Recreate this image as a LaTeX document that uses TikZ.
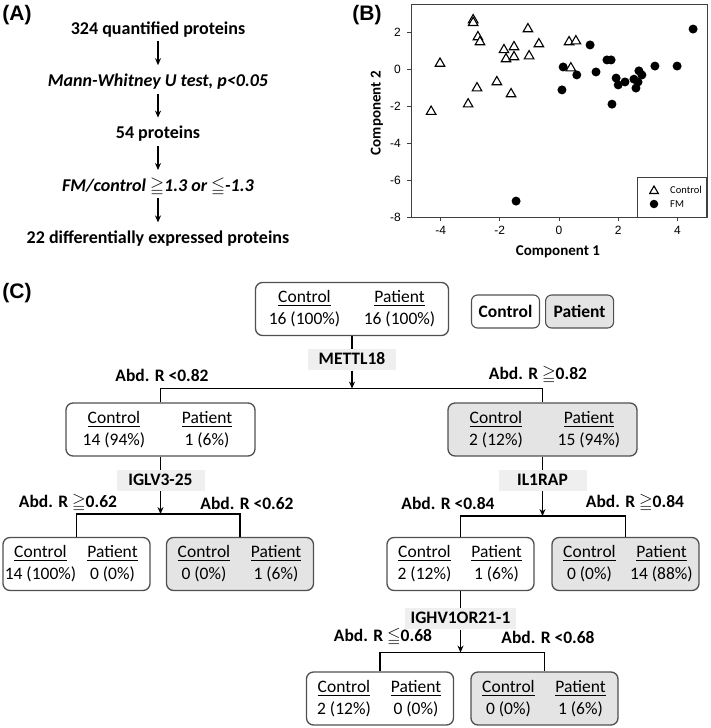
\documentclass[tikz,border=0pt]{standalone}
\usepackage{amssymb}
\usepackage{fontspec}
\setmainfont{Carlito}
\newfontfamily\arialfont{Liberation Sans}
\usetikzlibrary{arrows.meta, positioning, shapes.geometric}

\definecolor{boxgray}{HTML}{505050}
\definecolor{patientgray}{HTML}{E4E4E4}
\definecolor{labelgray}{HTML}{EFEFEF}
\definecolor{axisgray}{HTML}{404040}

% two columns of counts inside a box
\newcommand{\counts}[3][72pt]{%
  \makebox[#1]{\underline{Control}}\makebox[#1]{\underline{Patient}}\\
  \makebox[#1]{#2}\makebox[#1]{#3}}

\begin{document}
\begin{tikzpicture}[x=1pt, y=-1pt,
    panel label/.style={font=\arialfont\bfseries\fontsize{21}{24}\selectfont},
    flow text/.style={font=\bfseries\fontsize{18}{21}\selectfont,
        text height=12pt, text depth=4pt, inner sep=2pt},
    flow arrow/.style={-{Stealth[length=7pt,width=6pt]}, line width=1.3pt,
        shorten <=1pt, shorten >=7pt},
    count box/.style={draw=boxgray, line width=1.3pt, rounded corners=7pt,
        align=center, font=\fontsize{17.5}{22}\selectfont,
        minimum height=53pt, inner xsep=1.5pt, inner ysep=1pt},
    patient box/.style={count box, fill=patientgray},
    key box/.style={draw=boxgray, line width=1.1pt, rounded corners=6pt,
        font=\bfseries\fontsize{17.5}{21}\selectfont,
        minimum width=68pt, minimum height=33pt, inner sep=2pt},
    gene label/.style={fill=labelgray, font=\bfseries\fontsize{17.5}{21}\selectfont,
        minimum width=88pt, minimum height=21pt, text height=11.5pt,
        text depth=2pt, inner xsep=6pt, inner ysep=2pt},
    rule label/.style={font=\bfseries\fontsize{17.5}{21}\selectfont},
    split arrow/.style={-{Stealth[length=7pt,width=6pt]}, line width=1.3pt},
    split line/.style={line width=1.3pt},
    axis line/.style={draw=axisgray, line width=0.9pt},
    tick label/.style={font=\arialfont\fontsize{12}{14}\selectfont, inner sep=1pt},
    axis title/.style={font=\bfseries\fontsize{15}{18}\selectfont},
    ctrl mark/.style={regular polygon, regular polygon sides=3, draw, fill=white,
        line width=1.1pt, minimum size=11pt, inner sep=0pt},
    fm mark/.style={circle, fill=black, minimum size=9pt, inner sep=0pt},
    node distance=32pt
]
\useasboundingbox (0,0) rectangle (710,728);

% (A) filtering steps
\node[panel label] (la) at (17,15) {(A)};
\node[flow text] (p1) at (158,30) {324 quantified proteins};
\node[flow text, below=of p1] (p2) {\itshape Mann-Whitney U test, p<0.05};
\node[flow text, below=of p2] (p3) {54 proteins};
\node[flow text, below=of p3] (p4) {\itshape FM/control $\geqq$1.3 or $\leqq$-1.3};
\node[flow text, below=of p4] (p5) {22 differentially expressed proteins};
\foreach \a/\b in {p1/p2, p2/p3, p3/p4, p4/p5}
    \draw[flow arrow] (\a) -- (\b);

% (B) score plot
\node[panel label] (lb) at (367,15) {(B)};
\begin{scope}[shift={(559,69)}, x=29.6pt, y=18.5pt]
    \draw[axis line] (-5,-8) rectangle (5,3.5);
    \foreach \t in {-4,-2,...,4} {
        \draw[axis line] (\t,-8) -- ++(0pt,-4pt);
        \node[tick label, anchor=north] (xt\t) at (\t,-8) [yshift=-8pt] {\t};
    }
    \foreach \t in {2,0,-2,-4,-6,-8} {
        \draw[axis line] (-5,\t) -- ++(-4pt,0pt);
        \node[tick label, anchor=east] (yt\t) at (-5,\t) [xshift=-9pt] {\t};
    }
    \foreach \x/\y [count=\i] in {0.14/0.11, 0.6/-0.32, 0.1/-1.13, 1.05/1.3,
        1.25/-0.16, 1.62/0.49, 1.76/0.49, 1.93/-0.49, 2.0/-0.86, 2.23/-0.7,
        1.79/-1.9, 2.53/-0.55, 2.6/-1.03, 2.67/-0.7, 2.7/-0.1, 2.8/-0.32,
        3.24/0.16, 3.99/0.16, 4.53/2.16, -1.45/-7.14}
        \node[fm mark] (f\i) at (\x,\y) {};
    \foreach \x/\y [count=\i] in {-2.9/2.65, -2.9/2.5, -2.74/1.73, -2.67/1.46,
        -4.02/0.3, -4.32/-2.3, -3.07/-1.9, -2.77/-1.03, -2.1/-0.7, -1.62/-1.35,
        -1.86/1.03, -1.79/0.54, -1.52/1.19, -1.52/0.65, -1.01/0.7, -1.05/2.16,
        -0.68/1.35, 0.34/1.46, 0.57/1.51, 0.4/0.05}
        \node[ctrl mark] (c\i) at (\x,\y) {};
\end{scope}
\node[axis title] (xlab) at (558,252) {Component 1};
\node[axis title, rotate=90] (ylab) at (377,113) {Component 2};
% legend
\draw[axis line, line width=0.7pt] (637,177) rectangle (706,217);
\node[ctrl mark, minimum size=10pt] (kc) at (654,191) {};
\node[fm mark, minimum size=8.5pt] (kf) at (654,204) {};
\node[anchor=west, font=\fontsize{10.5}{12}\selectfont, inner sep=0pt] (ktc) at (670,190) {Control};
\node[anchor=west, font=\fontsize{10.5}{12}\selectfont, inner sep=0pt] (ktf) at (670,204) {FM};

% (C) decision tree
\node[panel label] (lc) at (17,293) {(C)};
\node[count box] (root) at (352,309) {\counts[95pt]{16 (100\%)}{16 (100\%)}};
\node[key box] (keyc) at (505.5,311.5) {Control};
\node[key box, fill=patientgray, right=5pt of keyc] (keyp) {Patient};

\node[gene label, below=13pt of root] (g1) {METTL18};
\coordinate[below=18pt of g1] (s1);
\node[count box] (lo) at (160.5,429.5) {\counts[93pt]{14 (94\%)}{1 (6\%)}};
\node[patient box] (hi) at (542.5,429.5) {\counts[93pt]{2 (12\%)}{15 (94\%)}};
\node[rule label] (r1) at (162,375) {Abd. R <0.82};
\node[rule label] (r2) at (538,375) {Abd. R $\geqq$0.82};
\draw[split line] (root) -- (g1);
\draw[split arrow] (g1) -- (s1);
\draw[split line] (lo.north) |- (s1) -| (hi.north);

% left branch
\node[gene label, below=13pt of lo] (g2) {IGLV3-25};
\coordinate[below=23pt of g2] (s2);
\node[count box] (ll) at (76.5,564) {\counts{14 (100\%)}{0 (0\%)}};
\node[patient box] (lr) at (240,564) {\counts{0 (0\%)}{1 (6\%)}};
\node[rule label] (r3) at (68,503) {Abd. R $\geqq$0.62};
\node[rule label] (r4) at (247,503) {Abd. R <0.62};
\draw[split line] (lo) -- (g2);
\draw[split arrow] (g2) -- (s2);
\draw[split line] (ll.north) |- (s2) -| (lr.north);

% right branch
\node[gene label, below=13pt of hi] (g3) {IL1RAP};
\coordinate[below=25pt of g3] (s3);
\node[count box] (rl) at (460.5,564) {\counts{2 (12\%)}{1 (6\%)}};
\node[patient box] (rr) at (625.5,564) {\counts{0 (0\%)}{14 (88\%)}};
\node[rule label] (r5) at (448,503) {Abd. R <0.84};
\node[rule label] (r6) at (635,503) {Abd. R $\geqq$0.84};
\draw[split line] (hi) -- (g3);
\draw[split arrow] (g3) -- (s3);
\draw[split line] (rl.north) |- (s3) -| (rr.north);

\node[gene label, below=17pt of rl] (g4) {IGHV1OR21-1};
\coordinate[below=23pt of g4] (s4);
\node[count box] (bl) at (380,698.5) {\counts{2 (12\%)}{0 (0\%)}};
\node[patient box] (br) at (544.5,698.5) {\counts{0 (0\%)}{1 (6\%)}};
\node[rule label] (r7) at (383,637) {Abd. R $\leqq$0.68};
\node[rule label] (r8) at (548,637) {Abd. R <0.68};
\draw[split line] (rl) -- (g4);
\draw[split arrow] (g4) -- (s4);
\draw[split line] (bl.north) |- (s4) -| (br.north);
\end{tikzpicture}
\end{document}
